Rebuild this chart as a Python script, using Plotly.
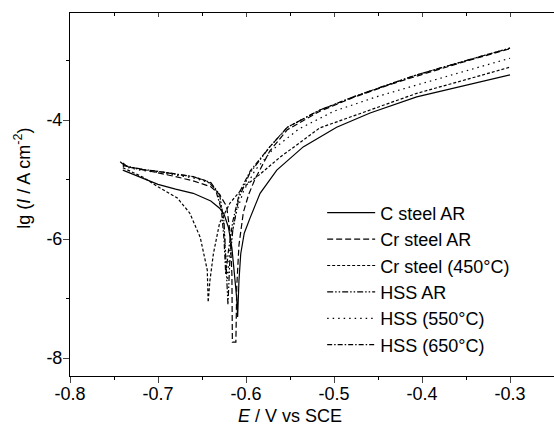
import plotly.graph_objects as go

# C steel AR (solid)
E_c = [-0.74, -0.73, -0.72, -0.70, -0.68, -0.66, -0.64, -0.63, -0.625, -0.62, -0.616, -0.613, -0.6105, -0.6095,
       -0.608, -0.606, -0.602, -0.595, -0.584, -0.565, -0.535, -0.497, -0.459, -0.406, -0.35, -0.30]
I_c = [-4.84, -4.90, -4.96, -5.08, -5.16, -5.23, -5.36, -5.48, -5.58, -5.80, -6.15, -6.60, -7.00, -7.31,
       -6.70, -6.25, -5.90, -5.63, -5.23, -4.84, -4.45, -4.12, -3.88, -3.61, -3.41, -3.24]

# Cr steel AR (long dash)
E_cr = [-0.74, -0.72, -0.70, -0.68, -0.66, -0.64, -0.63, -0.622, -0.618, -0.616, -0.6155, -0.6115,
        -0.6105, -0.608, -0.603, -0.597, -0.59, -0.573, -0.553, -0.516, -0.478, -0.44, -0.406, -0.35, -0.30]
I_cr = [-4.76, -4.82, -4.88, -4.95, -5.02, -5.12, -5.25, -5.45, -5.90, -6.60, -7.73, -7.73,
        -6.80, -6.10, -5.55, -5.25, -5.00, -4.52, -4.16, -3.85, -3.62, -3.42, -3.26, -3.01, -2.80]

# Cr steel (450 C) (short dash)
E_cr450 = [-0.74, -0.717, -0.70, -0.678, -0.664, -0.652, -0.644, -0.643, -0.641, -0.637, -0.630, -0.618,
           -0.603, -0.585, -0.561, -0.516, -0.459, -0.406, -0.35, -0.30]
I_cr450 = [-4.80, -4.96, -5.12, -5.31, -5.56, -5.97, -6.52, -7.06, -6.70, -6.24, -5.73, -5.39,
           -5.13, -4.92, -4.62, -4.13, -3.83, -3.55, -3.32, -3.11]

# HSS AR (dash-dot-dot)
E_hss = [-0.74, -0.735, -0.72, -0.70, -0.68, -0.66, -0.64, -0.63, -0.625, -0.622, -0.6205, -0.6185, -0.615,
         -0.608, -0.596, -0.573, -0.553, -0.516, -0.478, -0.44, -0.406, -0.35, -0.30]
I_hss = [-4.72, -4.78, -4.82, -4.86, -4.90, -4.95, -5.05, -5.25, -5.70, -6.50, -7.10, -6.40, -5.85,
         -5.30, -4.90, -4.45, -4.12, -3.83, -3.61, -3.41, -3.24, -3.00, -2.79]

# HSS (550 C) (dotted)
E_hss550 = [-0.74, -0.72, -0.70, -0.68, -0.66, -0.64, -0.632, -0.626, -0.623, -0.621, -0.618, -0.612,
            -0.603, -0.59, -0.57, -0.54, -0.50, -0.45, -0.406, -0.35, -0.30]
I_hss550 = [-4.78, -4.84, -4.88, -4.92, -4.97, -5.06, -5.22, -5.60, -6.20, -6.70, -6.10, -5.60,
            -5.20, -4.85, -4.50, -4.15, -3.85, -3.60, -3.41, -3.17, -2.96]

# HSS (650 C) (dash-dot)
E_hss650 = [-0.743, -0.738, -0.73, -0.72, -0.70, -0.68, -0.66, -0.645, -0.635, -0.628, -0.625, -0.623, -0.620,
            -0.615, -0.607, -0.595, -0.573, -0.553, -0.516, -0.478, -0.44, -0.406, -0.35, -0.30]
I_hss650 = [-4.70, -4.76, -4.80, -4.83, -4.86, -4.90, -4.95, -5.02, -5.15, -5.50, -6.00, -6.60, -6.20,
            -5.70, -5.20, -4.85, -4.45, -4.12, -3.83, -3.61, -3.41, -3.24, -3.00, -2.79]

series = [
    ("C steel AR", E_c, I_c, "solid"),
    ("Cr steel AR", E_cr, I_cr, "6px,3px"),
    ("Cr steel (450°C)", E_cr450, I_cr450, "3px,2px"),
    ("HSS AR", E_hss, I_hss, "6px,2px,1.5px,2px,1.5px,2px"),
    ("HSS (550°C)", E_hss550, I_hss550, "1.5px,4px"),
    ("HSS (650°C)", E_hss650, I_hss650, "5px,2px,1.5px,2px"),
]

x_ticks = [-0.8, -0.7, -0.6, -0.5, -0.4, -0.3]
y_ticks = [-8, -6, -4]

fig = go.Figure()
for i, (name, xs, ys, dash) in enumerate(series):
    fig.add_trace(go.Scatter(x=xs, y=ys, mode="lines", name=name, legendgroup=str(i),
                             line=dict(color="black", width=1.2, dash=dash)))

font = dict(family="Liberation Sans, Arial, sans-serif", size=18, color="black")
fig.update_layout(
    width=554, height=436,
    margin=dict(l=70, r=0, t=13, b=60),
    paper_bgcolor="white", plot_bgcolor="white",
    font=font,
    showlegend=True,
    legend=dict(x=0.521, y=0.50, xanchor="left", yanchor="top", bgcolor="rgba(0,0,0,0)",
                font=font, tracegroupgap=0, itemwidth=48),
    xaxis=dict(range=[-0.8, -0.25], tickvals=x_ticks, ticktext=[f"{v:.1f}" for v in x_ticks],
               ticks="outside", ticklen=6, tickwidth=1, showline=True, linecolor="black", linewidth=1,
               ticklabelstandoff=-5,
               minor=dict(dtick=0.05, tick0=-0.8, ticks="outside", ticklen=3, tickcolor="black"),
               showgrid=False, zeroline=False, tickfont=font),
    xaxis2=dict(range=[-0.8, -0.25], overlaying="x", side="top", showticklabels=False,
                tickvals=x_ticks, ticks="inside", ticklen=4, showline=True, linecolor="black", linewidth=1,
                minor=dict(dtick=0.05, tick0=-0.8, ticks="inside", ticklen=3, tickcolor="black"),
                showgrid=False, zeroline=False),
    yaxis=dict(range=[-8.3, -2.2], tickvals=y_ticks, ticktext=[str(v) for v in y_ticks],
               ticks="outside", ticklen=6, tickwidth=1, showline=True, linecolor="black", linewidth=1,
               ticklabelstandoff=-3,
               minor=dict(tickvals=[-7, -5, -3], ticks="outside", ticklen=3, tickcolor="black"),
               showgrid=False, zeroline=False, tickfont=font),
)
# invisible trace to activate the top axis
fig.add_trace(go.Scatter(x=[-0.8], y=[-8.3], xaxis="x2", mode="markers", marker=dict(opacity=0),
                         showlegend=False, hoverinfo="skip"))

fig.add_annotation(text="<i>E</i> / V vs SCE", x=-0.55, xref="x", y=-0.11, yref="paper",
                   showarrow=False, font=font, xanchor="center", yanchor="middle")
fig.add_annotation(text="lg (<i>I</i> / A cm<sup>-2</sup>)", x=-0.098, xref="paper", y=0.545, yref="paper",
                   showarrow=False, font=font, textangle=-90, xanchor="center", yanchor="middle")

fig.write_html("out.html", config={"displayModeBar": False},
               post_script="document.body.style.margin='0';")
